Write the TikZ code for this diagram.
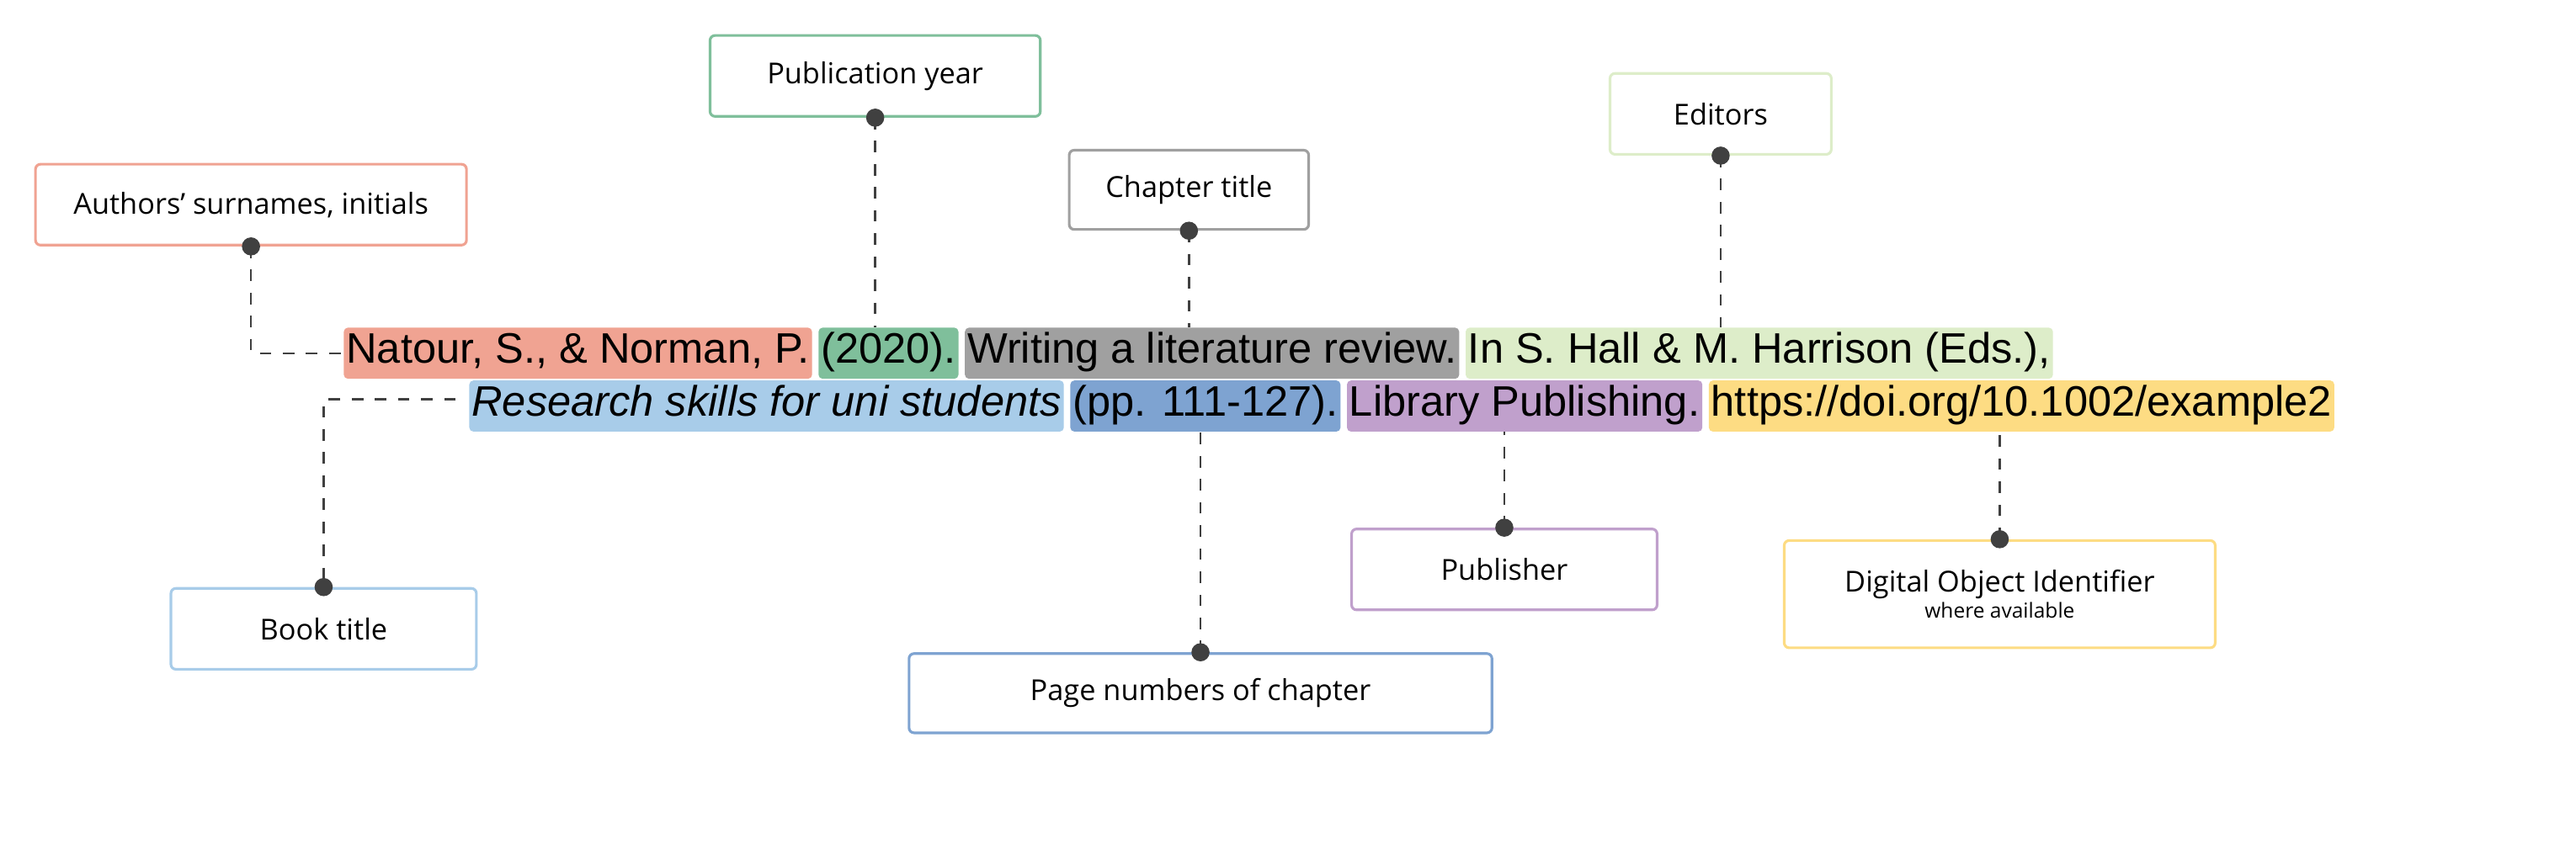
\documentclass[tikz,border=0pt]{standalone}
\usepackage{fontspec}
\setmainfont{Liberation Sans}
\newfontfamily\labelfont{Open Sans}
\usetikzlibrary{positioning}
\definecolor{cAuth}{HTML}{F0A392}
\definecolor{cYear}{HTML}{7FBF9B}
\definecolor{cChap}{HTML}{A0A0A0}
\definecolor{cEds}{HTML}{DDEDC9}
\definecolor{cBook}{HTML}{A8CCE9}
\definecolor{cPage}{HTML}{7EA3D1}
\definecolor{cPubl}{HTML}{C0A0CC}
\definecolor{cDoi}{HTML}{FDDC83}
\definecolor{cDot}{HTML}{404040}
\tikzset{
  hl/.style={fill=#1, rounded corners=2.5pt, inner xsep=1.5pt, minimum height=31pt,
    font=\fontsize{25.8}{28}\selectfont, text depth=6pt, text height=18pt},
  lbl/.style={draw=#1, line width=1.6pt, rounded corners=3pt, fill=white,
    font=\labelfont\fontsize{17.5}{20}\selectfont, align=center},
  lead/.style={cDot, line width=1.3pt, dash pattern=on 7pt off 7pt},
  dot/.style={circle, fill=cDot, inner sep=0pt, minimum size=11pt}
}
\begin{document}
\begin{tikzpicture}[x=1pt, y=-1pt]
  \useasboundingbox (0,0) rectangle (1560,514);
  % reference, first line
  \node[hl=cAuth, anchor=west] (auth) at (208,214) {Natour, S., \& Norman, P.};
  \node[hl=cYear, right=3.5pt of auth] (year) {(2020).};
  \node[hl=cChap, right=3.5pt of year] (chap) {Writing a literature review.};
  \node[hl=cEds, right=3.5pt of chap] (eds) {In S. Hall \& M. Harrison (Eds.),};
  % reference, second line
  \node[hl=cBook, anchor=west] (book) at (284,246) {\itshape Research skills for uni students};
  \node[hl=cPage, right=3.5pt of book] (page) {(pp. 111-127).};
  \node[hl=cPubl, right=3.5pt of page] (publ) {Library Publishing.};
  \node[hl=cDoi, right=3.5pt of publ] (doi) {https://doi.org/10.1002/example2};
  % label boxes
  \node[lbl=cAuth, minimum width=261pt, minimum height=49pt] (lAuth) at (152,124) {Authors’ surnames, initials};
  \node[lbl=cYear, minimum width=200pt, minimum height=49pt] (lYear) at (530,46) {Publication year};
  \node[lbl=cChap, minimum width=145pt, minimum height=48pt] (lChap) at (720,115) {Chapter title};
  \node[lbl=cEds, minimum width=134pt, minimum height=49pt] (lEds) at (1042,69) {Editors};
  \node[lbl=cBook, minimum width=185pt, minimum height=49pt] (lBook) at (196,381) {Book title};
  \node[lbl=cPage, minimum width=353pt, minimum height=48pt] (lPage) at (727,420) {Page numbers of chapter};
  \node[lbl=cPubl, minimum width=185pt, minimum height=49pt] (lPubl) at (911,345) {Publisher};
  \node[lbl=cDoi, minimum width=261pt, minimum height=65pt] (lDoi) at (1211,360)
    {Digital Object Identifier\\[-4pt]{\fontsize{12.5}{14}\selectfont where available}};
  % leaders
  \coordinate (aBend) at (lAuth.south |- auth.west);
  \draw[lead] (lAuth.south) -- (aBend) -- (auth.west);
  \coordinate (bEnd) at (276,242);
  \coordinate (bBend) at (lBook.north |- bEnd);
  \draw[lead] (bEnd) -- (bBend) -- (lBook.north);
  \draw[lead] (lYear.south) -- (lYear.south |- year.north);
  \draw[lead] (lChap.south) -- (lChap.south |- chap.north);
  \draw[lead] (lEds.south) -- (lEds.south |- eds.north);
  \draw[lead] (lPage.north) -- (lPage.north |- page.south);
  \draw[lead] (lPubl.north) -- (lPubl.north |- publ.south);
  \draw[lead] (lDoi.north) -- (lDoi.north |- doi.south);
  % dots
  \foreach \n/\a in {lAuth/south, lYear/south, lChap/south, lEds/south,
                     lBook/north, lPage/north, lPubl/north, lDoi/north}
    \node[dot] at (\n.\a) {};
\end{tikzpicture}
\end{document}
